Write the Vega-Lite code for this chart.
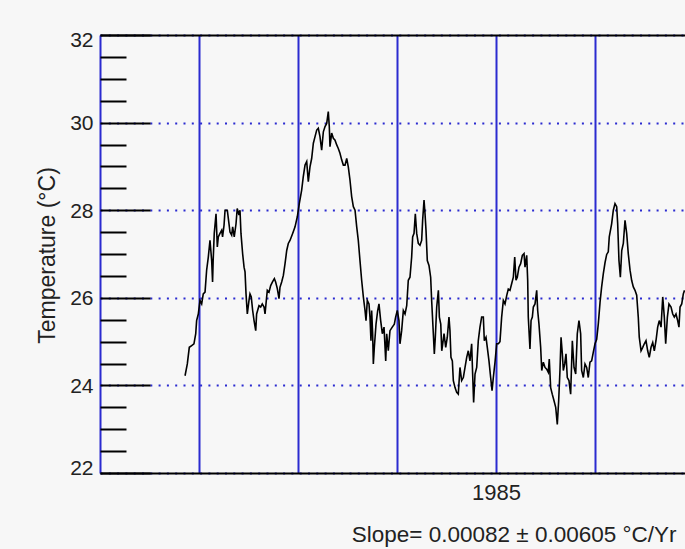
{
  "$schema": "https://vega.github.io/schema/vega-lite/v6.json",
  "width": 585,
  "height": 438,
  "autosize": {"type": "none"},
  "padding": {"left": 100, "top": 35, "right": 0, "bottom": 76},
  "background": "#f7f7f7",
  "data": {
    "values": [
      {"t": 1981.859, "v": 24.22}, {"t": 1981.882, "v": 24.49}, {"t": 1981.902, "v": 24.87}, {"t": 1981.926, "v": 24.91},
      {"t": 1981.949, "v": 24.95}, {"t": 1981.967, "v": 25.18}, {"t": 1981.976, "v": 25.48}, {"t": 1981.993, "v": 25.63},
      {"t": 1982.010, "v": 25.94}, {"t": 1982.027, "v": 25.86}, {"t": 1982.043, "v": 26.09}, {"t": 1982.061, "v": 26.13},
      {"t": 1982.077, "v": 26.63}, {"t": 1982.094, "v": 26.93}, {"t": 1982.111, "v": 27.31}, {"t": 1982.128, "v": 26.85},
      {"t": 1982.137, "v": 26.36}, {"t": 1982.143, "v": 26.85}, {"t": 1982.154, "v": 27.47}, {"t": 1982.172, "v": 27.92},
      {"t": 1982.185, "v": 27.16}, {"t": 1982.195, "v": 27.39}, {"t": 1982.212, "v": 27.47}, {"t": 1982.229, "v": 27.54},
      {"t": 1982.238, "v": 27.39}, {"t": 1982.253, "v": 27.66}, {"t": 1982.263, "v": 28.0}, {"t": 1982.286, "v": 28.0},
      {"t": 1982.303, "v": 27.69}, {"t": 1982.313, "v": 27.5}, {"t": 1982.330, "v": 27.43}, {"t": 1982.340, "v": 27.62},
      {"t": 1982.356, "v": 27.39}, {"t": 1982.374, "v": 27.69}, {"t": 1982.386, "v": 28.04}, {"t": 1982.404, "v": 27.89},
      {"t": 1982.414, "v": 28.0}, {"t": 1982.424, "v": 27.47}, {"t": 1982.441, "v": 27.0}, {"t": 1982.455, "v": 26.7},
      {"t": 1982.465, "v": 26.59}, {"t": 1982.475, "v": 26.09}, {"t": 1982.488, "v": 25.63}, {"t": 1982.505, "v": 25.94},
      {"t": 1982.515, "v": 26.09}, {"t": 1982.528, "v": 26.02}, {"t": 1982.542, "v": 25.71}, {"t": 1982.556, "v": 25.48},
      {"t": 1982.573, "v": 25.25}, {"t": 1982.582, "v": 25.63}, {"t": 1982.592, "v": 25.71}, {"t": 1982.606, "v": 25.82},
      {"t": 1982.623, "v": 25.79}, {"t": 1982.639, "v": 25.86}, {"t": 1982.657, "v": 25.79}, {"t": 1982.667, "v": 25.63},
      {"t": 1982.680, "v": 25.94}, {"t": 1982.690, "v": 26.17}, {"t": 1982.707, "v": 26.13}, {"t": 1982.724, "v": 26.28},
      {"t": 1982.741, "v": 26.36}, {"t": 1982.761, "v": 26.44}, {"t": 1982.774, "v": 26.36}, {"t": 1982.791, "v": 26.21},
      {"t": 1982.808, "v": 25.98}, {"t": 1982.818, "v": 26.24}, {"t": 1982.835, "v": 26.36}, {"t": 1982.852, "v": 26.51},
      {"t": 1982.869, "v": 26.78}, {"t": 1982.886, "v": 27.08}, {"t": 1982.902, "v": 27.24}, {"t": 1982.919, "v": 27.31},
      {"t": 1982.946, "v": 27.47}, {"t": 1982.970, "v": 27.62}, {"t": 1982.993, "v": 27.85}, {"t": 1983.013, "v": 28.15},
      {"t": 1983.037, "v": 28.46}, {"t": 1983.053, "v": 28.76}, {"t": 1983.071, "v": 29.03}, {"t": 1983.088, "v": 29.11},
      {"t": 1983.104, "v": 28.65}, {"t": 1983.121, "v": 28.99}, {"t": 1983.138, "v": 29.18}, {"t": 1983.155, "v": 29.53},
      {"t": 1983.172, "v": 29.68}, {"t": 1983.189, "v": 29.83}, {"t": 1983.205, "v": 29.87}, {"t": 1983.222, "v": 29.68},
      {"t": 1983.239, "v": 29.37}, {"t": 1983.256, "v": 29.79}, {"t": 1983.273, "v": 29.91}, {"t": 1983.290, "v": 29.98},
      {"t": 1983.306, "v": 30.25}, {"t": 1983.316, "v": 29.91}, {"t": 1983.323, "v": 29.45}, {"t": 1983.340, "v": 29.76},
      {"t": 1983.357, "v": 29.64}, {"t": 1983.374, "v": 29.6}, {"t": 1983.391, "v": 29.49}, {"t": 1983.407, "v": 29.41},
      {"t": 1983.424, "v": 29.3}, {"t": 1983.441, "v": 29.15}, {"t": 1983.458, "v": 29.03}, {"t": 1983.475, "v": 29.03},
      {"t": 1983.492, "v": 29.18}, {"t": 1983.508, "v": 28.99}, {"t": 1983.525, "v": 28.69}, {"t": 1983.542, "v": 28.31},
      {"t": 1983.559, "v": 28.08}, {"t": 1983.576, "v": 28.0}, {"t": 1983.593, "v": 27.62}, {"t": 1983.609, "v": 27.31},
      {"t": 1983.626, "v": 26.85}, {"t": 1983.643, "v": 26.4}, {"t": 1983.660, "v": 26.02}, {"t": 1983.677, "v": 25.71},
      {"t": 1983.687, "v": 25.48}, {"t": 1983.700, "v": 25.94}, {"t": 1983.717, "v": 25.86}, {"t": 1983.727, "v": 25.56},
      {"t": 1983.737, "v": 25.02}, {"t": 1983.744, "v": 25.71}, {"t": 1983.754, "v": 25.18}, {"t": 1983.761, "v": 24.49},
      {"t": 1983.771, "v": 24.87}, {"t": 1983.788, "v": 25.4}, {"t": 1983.805, "v": 25.71}, {"t": 1983.818, "v": 25.86},
      {"t": 1983.835, "v": 25.48}, {"t": 1983.852, "v": 25.18}, {"t": 1983.869, "v": 25.33}, {"t": 1983.886, "v": 24.56},
      {"t": 1983.896, "v": 25.18}, {"t": 1983.912, "v": 24.79}, {"t": 1983.929, "v": 25.25}, {"t": 1983.952, "v": 25.33},
      {"t": 1983.973, "v": 25.4}, {"t": 1983.986, "v": 25.56}, {"t": 1984.003, "v": 25.71}, {"t": 1984.020, "v": 25.48},
      {"t": 1984.030, "v": 24.95}, {"t": 1984.047, "v": 25.25}, {"t": 1984.064, "v": 25.71}, {"t": 1984.081, "v": 25.63},
      {"t": 1984.098, "v": 25.82}, {"t": 1984.114, "v": 26.4}, {"t": 1984.131, "v": 26.47}, {"t": 1984.148, "v": 26.93},
      {"t": 1984.158, "v": 27.39}, {"t": 1984.172, "v": 27.47}, {"t": 1984.185, "v": 27.92}, {"t": 1984.199, "v": 27.47},
      {"t": 1984.215, "v": 27.24}, {"t": 1984.232, "v": 27.2}, {"t": 1984.249, "v": 27.31}, {"t": 1984.259, "v": 27.77},
      {"t": 1984.273, "v": 28.23}, {"t": 1984.283, "v": 27.92}, {"t": 1984.293, "v": 27.54}, {"t": 1984.306, "v": 26.85},
      {"t": 1984.323, "v": 26.74}, {"t": 1984.340, "v": 26.47}, {"t": 1984.350, "v": 25.94}, {"t": 1984.367, "v": 25.18},
      {"t": 1984.377, "v": 24.72}, {"t": 1984.387, "v": 25.1}, {"t": 1984.401, "v": 25.79}, {"t": 1984.418, "v": 26.17},
      {"t": 1984.428, "v": 25.56}, {"t": 1984.442, "v": 25.4}, {"t": 1984.452, "v": 24.79}, {"t": 1984.462, "v": 24.95},
      {"t": 1984.475, "v": 25.18}, {"t": 1984.492, "v": 24.87}, {"t": 1984.508, "v": 25.1}, {"t": 1984.525, "v": 25.56},
      {"t": 1984.535, "v": 25.25}, {"t": 1984.545, "v": 24.64}, {"t": 1984.559, "v": 24.56}, {"t": 1984.569, "v": 24.11},
      {"t": 1984.586, "v": 23.95}, {"t": 1984.603, "v": 23.84}, {"t": 1984.619, "v": 23.8}, {"t": 1984.636, "v": 24.41},
      {"t": 1984.653, "v": 24.11}, {"t": 1984.670, "v": 24.18}, {"t": 1984.687, "v": 24.41}, {"t": 1984.704, "v": 24.64},
      {"t": 1984.720, "v": 24.79}, {"t": 1984.737, "v": 24.56}, {"t": 1984.754, "v": 24.95}, {"t": 1984.764, "v": 24.26},
      {"t": 1984.774, "v": 23.61}, {"t": 1984.788, "v": 24.26}, {"t": 1984.805, "v": 24.41}, {"t": 1984.821, "v": 25.02},
      {"t": 1984.838, "v": 25.33}, {"t": 1984.855, "v": 25.56}, {"t": 1984.872, "v": 25.56}, {"t": 1984.882, "v": 25.02},
      {"t": 1984.899, "v": 25.1}, {"t": 1984.912, "v": 24.87}, {"t": 1984.929, "v": 24.56}, {"t": 1984.946, "v": 24.18},
      {"t": 1984.960, "v": 23.88}, {"t": 1984.973, "v": 24.18}, {"t": 1984.990, "v": 24.53}, {"t": 1985.007, "v": 24.95},
      {"t": 1985.024, "v": 24.95}, {"t": 1985.040, "v": 25.0}, {"t": 1985.057, "v": 25.56}, {"t": 1985.074, "v": 25.94},
      {"t": 1985.091, "v": 25.86}, {"t": 1985.108, "v": 26.05}, {"t": 1985.124, "v": 26.2}, {"t": 1985.141, "v": 26.17},
      {"t": 1985.158, "v": 26.32}, {"t": 1985.175, "v": 26.47}, {"t": 1985.189, "v": 26.93}, {"t": 1985.202, "v": 26.4},
      {"t": 1985.215, "v": 26.47}, {"t": 1985.232, "v": 26.7}, {"t": 1985.249, "v": 26.78}, {"t": 1985.266, "v": 26.97},
      {"t": 1985.283, "v": 27.01}, {"t": 1985.293, "v": 26.7}, {"t": 1985.310, "v": 26.97}, {"t": 1985.320, "v": 26.4},
      {"t": 1985.326, "v": 25.56}, {"t": 1985.343, "v": 24.83}, {"t": 1985.354, "v": 25.48}, {"t": 1985.367, "v": 25.56},
      {"t": 1985.377, "v": 25.79}, {"t": 1985.394, "v": 25.86}, {"t": 1985.411, "v": 26.17}, {"t": 1985.421, "v": 25.71},
      {"t": 1985.434, "v": 25.4}, {"t": 1985.451, "v": 24.87}, {"t": 1985.462, "v": 24.34}, {"t": 1985.478, "v": 24.53},
      {"t": 1985.495, "v": 24.41}, {"t": 1985.512, "v": 24.37}, {"t": 1985.528, "v": 24.3}, {"t": 1985.538, "v": 24.6},
      {"t": 1985.552, "v": 23.95}, {"t": 1985.568, "v": 23.8}, {"t": 1985.586, "v": 23.65}, {"t": 1985.603, "v": 23.5},
      {"t": 1985.619, "v": 23.11}, {"t": 1985.633, "v": 23.65}, {"t": 1985.646, "v": 24.34}, {"t": 1985.657, "v": 25.1},
      {"t": 1985.670, "v": 24.72}, {"t": 1985.680, "v": 24.34}, {"t": 1985.694, "v": 24.49}, {"t": 1985.707, "v": 24.72},
      {"t": 1985.720, "v": 24.18}, {"t": 1985.737, "v": 24.11}, {"t": 1985.754, "v": 23.8}, {"t": 1985.771, "v": 25.02},
      {"t": 1985.788, "v": 24.41}, {"t": 1985.805, "v": 24.26}, {"t": 1985.821, "v": 25.18}, {"t": 1985.838, "v": 25.48},
      {"t": 1985.855, "v": 25.18}, {"t": 1985.865, "v": 24.34}, {"t": 1985.882, "v": 24.18}, {"t": 1985.899, "v": 24.49},
      {"t": 1985.916, "v": 24.41}, {"t": 1985.932, "v": 24.18}, {"t": 1985.949, "v": 24.53}, {"t": 1985.966, "v": 24.56},
      {"t": 1985.983, "v": 24.76}, {"t": 1986.000, "v": 24.95}, {"t": 1986.017, "v": 25.05}, {"t": 1986.033, "v": 25.4},
      {"t": 1986.051, "v": 25.9}, {"t": 1986.067, "v": 26.25}, {"t": 1986.084, "v": 26.55}, {"t": 1986.101, "v": 26.8},
      {"t": 1986.118, "v": 26.99}, {"t": 1986.134, "v": 27.05}, {"t": 1986.144, "v": 27.39}, {"t": 1986.168, "v": 27.69},
      {"t": 1986.185, "v": 28.0}, {"t": 1986.202, "v": 28.15}, {"t": 1986.219, "v": 28.08}, {"t": 1986.229, "v": 27.69},
      {"t": 1986.242, "v": 26.85}, {"t": 1986.256, "v": 26.47}, {"t": 1986.270, "v": 27.08}, {"t": 1986.286, "v": 27.24},
      {"t": 1986.303, "v": 27.77}, {"t": 1986.320, "v": 27.47}, {"t": 1986.336, "v": 27.01}, {"t": 1986.354, "v": 26.63},
      {"t": 1986.370, "v": 26.4}, {"t": 1986.387, "v": 26.25}, {"t": 1986.404, "v": 26.17}, {"t": 1986.421, "v": 26.06},
      {"t": 1986.437, "v": 25.56}, {"t": 1986.447, "v": 25.1}, {"t": 1986.465, "v": 24.79}, {"t": 1986.482, "v": 24.87},
      {"t": 1986.498, "v": 24.95}, {"t": 1986.515, "v": 25.02}, {"t": 1986.532, "v": 24.79}, {"t": 1986.548, "v": 24.64},
      {"t": 1986.566, "v": 24.87}, {"t": 1986.583, "v": 24.98}, {"t": 1986.599, "v": 24.79}, {"t": 1986.616, "v": 25.02},
      {"t": 1986.633, "v": 25.33}, {"t": 1986.649, "v": 25.48}, {"t": 1986.667, "v": 25.33}, {"t": 1986.684, "v": 26.02},
      {"t": 1986.700, "v": 25.56}, {"t": 1986.714, "v": 24.95}, {"t": 1986.731, "v": 25.56}, {"t": 1986.747, "v": 25.86},
      {"t": 1986.768, "v": 25.79}, {"t": 1986.785, "v": 25.63}, {"t": 1986.801, "v": 25.56}, {"t": 1986.818, "v": 25.63},
      {"t": 1986.835, "v": 25.48}, {"t": 1986.848, "v": 25.33}, {"t": 1986.859, "v": 25.79}, {"t": 1986.876, "v": 25.86},
      {"t": 1986.892, "v": 26.09}, {"t": 1986.904, "v": 26.17}
    ]
  },
  "layer": [
    {
      "mark": {"type": "line", "color": "black", "strokeWidth": 1.6, "clip": true},
      "encoding": {
        "x": {
          "field": "t",
          "type": "quantitative",
          "scale": {"domain": [1981, 1986.909], "nice": false, "zero": false},
          "axis": {
            "orient": "bottom",
            "values": [1981, 1982, 1983, 1984, 1985, 1986],
            "grid": true,
            "gridColor": "#2b2bd0",
            "gridWidth": 2,
            "ticks": false,
            "domain": true,
            "domainColor": "black",
            "domainWidth": 2,
            "labelExpr": "datum.value == 1985 ? '1985' : ''",
            "labelFont": "Liberation Sans",
            "labelFontSize": 22,
            "labelColor": "#222222",
            "labelPadding": 9,
            "labelFlush": false,
            "title": "Slope= 0.00082 ± 0.00605 °C/Yr",
            "titleFont": "Liberation Sans",
            "titleFontSize": 22.5,
            "titleFontWeight": "normal",
            "titleColor": "#222222",
            "titleX": 576,
            "titleY": 68,
            "titleAlign": "right",
            "titleBaseline": "alphabetic"
          }
        },
        "y": {
          "field": "v",
          "type": "quantitative",
          "scale": {"domain": [22, 32], "nice": false, "zero": false},
          "axis": {
            "values": [22, 22.5, 23, 23.5, 24, 24.5, 25, 25.5, 26, 26.5, 27, 27.5, 28, 28.5, 29, 29.5, 30, 30.5, 31, 31.5, 32],
            "grid": true,
            "gridColor": "#2b2bd0",
            "gridDash": [2, 6.3],
            "gridWidth": 2,
            "gridOpacity": {"condition": {"test": "datum.value % 2 == 0", "value": 1}, "value": 0},
            "domain": false,
            "tickColor": "black",
            "tickWidth": 2,
            "tickSize": {"condition": {"test": "datum.value % 2 == 0", "value": -50}, "value": -26},
            "labelExpr": "datum.value % 2 == 0 ? format(datum.value, 'd') : ''",
            "labelFont": "Liberation Sans",
            "labelFontSize": 21,
            "labelColor": "#222222",
            "labelPadding": {"condition": {"test": "datum.value % 2 == 0", "value": 57}, "value": 33},
            "labelFlush": false,
            "labelOffset": {"condition": [{"test": "datum.value == 32", "value": 5}, {"test": "datum.value == 22", "value": -5}], "value": 1},
            "title": "Temperature (°C)",
            "titleFont": "Liberation Sans",
            "titleFontSize": 23,
            "titleFontWeight": "normal",
            "titleColor": "#222222",
            "titleX": -53,
            "titleY": 220,
            "titleAlign": "center",
            "titleBaseline": "middle"
          }
        }
      }
    },
    {
      "mark": {"type": "line", "opacity": 0},
      "encoding": {
        "x": {
          "field": "t",
          "type": "quantitative",
          "axis": {"orient": "top", "labels": false, "ticks": false, "grid": false, "domain": true, "domainColor": "black", "domainWidth": 2, "title": null}
        },
        "y": {"field": "v", "type": "quantitative", "axis": null}
      }
    }
  ],
  "resolve": {"axis": {"x": "independent", "y": "independent"}},
  "config": {"view": {"stroke": null}}
}
